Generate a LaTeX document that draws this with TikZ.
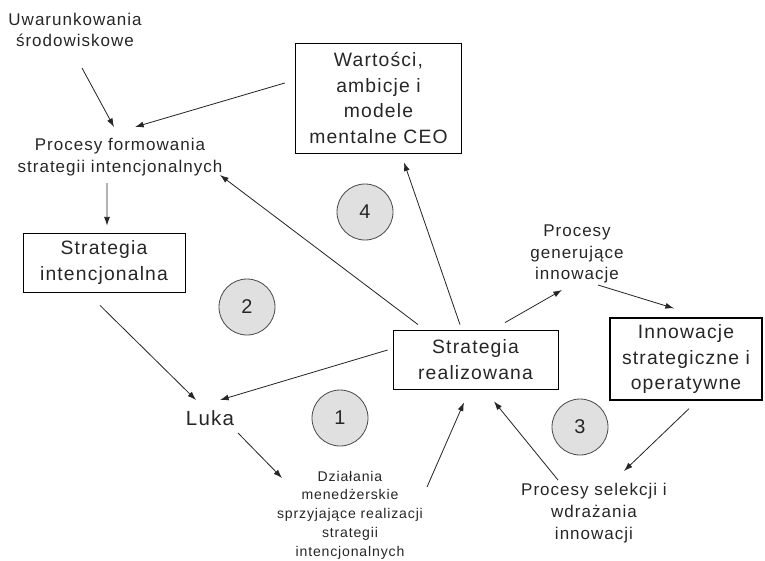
\documentclass[tikz,border=0pt]{standalone}
\usepackage{fontspec}
\setmainfont{Liberation Sans}[LetterSpace=6]
\usepackage{tikz}
\usetikzlibrary{arrows.meta,positioning}

\begin{document}
\begin{tikzpicture}[
  every node/.style={align=center, text=black!85},
  box/.style={rectangle, draw=black, line width=0.7pt, inner sep=0pt, font=\fontsize{16.5}{22}\selectfont},
  plain/.style={font=\fontsize{14.5}{18.5}\selectfont},
  marker/.style={circle, draw=black!70, line width=0.7pt, fill=black!12, minimum size=1.68cm, font=\fontsize{17}{18}\selectfont},
  arrow/.style={-{Latex[length=2.6mm, width=1.8mm]}, line width=0.7pt, draw=black!85}
]
\useasboundingbox (0,0) rectangle (22.95,-16.8);

% --- TEXT LABELS ---
\node[plain] (uwar) at (2.25,-0.9) {Uwarunkowania\\środowiskowe};
\node[plain] (procform) at (3.6,-4.71) {Procesy formowania\\strategii intencjonalnych};
\node[font=\fontsize{17.5}{20}\selectfont] (luka) at (6.3,-12.54) {Luka};
\node[font=\fontsize{12}{16}\selectfont] (actions) at (10.5,-15.45) {Działania\\menedżerskie\\sprzyjające realizacji\\strategii\\intencjonalnych};
\node[plain] (generate) at (17.31,-7.62) {Procesy\\generujące\\innowacje};
\node[plain] (select) at (17.82,-15.39) {Procesy selekcji i\\wdrażania\\innowacji};

% --- BOXES ---
\node[box, minimum width=5.0cm, minimum height=3.3cm] (values) at (11.355,-2.94) {Wartości,\\ambicje i\\modele\\mentalne CEO};
\node[box, minimum width=4.86cm, minimum height=1.77cm] (intended) at (3.12,-7.875) {Strategia\\intencjonalna};
\node[box, minimum width=4.95cm, minimum height=1.77cm] (realized) at (14.265,-10.785) {Strategia\\realizowana};
\node[box, line width=1.1pt, minimum width=4.56cm, minimum height=2.46cm] (innov) at (20.58,-10.77) {Innowacje\\strategiczne i\\operatywne};

% --- NUMBERED LOOPS ---
\node[marker] (loop1) at (10.2,-12.54) {1};
\node[marker] (loop2) at (7.41,-9.21) {2};
\node[marker] (loop3) at (17.4,-12.81) {3};
\node[marker] (loop4) at (10.95,-6.36) {4};

% --- INTENDED STRATEGY FLOW ---
\draw[arrow] ([xshift=0.21cm, yshift=-1.14cm]uwar.center) -- ([xshift=-0.18cm, yshift=0.9cm]procform.center);
\draw[arrow] ([xshift=-0.3cm, yshift=0.45cm]values.west) -- ([xshift=0.45cm, yshift=0.9cm]procform.center);
\draw[arrow] ([xshift=-0.39cm, yshift=-0.78cm]procform.center) -- ([xshift=0.09cm, yshift=0.21cm]intended.north);
\draw[arrow] ([xshift=-0.12cm, yshift=-0.39cm]intended.south) -- ([xshift=-0.42cm, yshift=0.54cm]luka.center);

% --- GAP AND MANAGERIAL ACTIONS ---
\draw[arrow] ([xshift=-0.15cm, yshift=0.285cm]realized.west) -- ([xshift=0.3cm, yshift=0.54cm]luka.center);
\draw[arrow] ([xshift=0.84cm, yshift=-0.45cm]luka.center) -- ([xshift=-2.04cm, yshift=1.11cm]actions.center);
\draw[arrow] ([xshift=2.31cm, yshift=0.84cm]actions.center) -- ([xshift=-0.345cm, yshift=-0.39cm]realized.south);

% --- FEEDBACK FROM REALIZED STRATEGY ---
\draw[arrow] ([xshift=-1.725cm, yshift=0.15cm]realized.north) -- ([xshift=3.0cm, yshift=-0.54cm]procform.center);
\draw[arrow] ([xshift=-0.465cm, yshift=0.15cm]realized.north) -- ([xshift=0.765cm, yshift=-0.27cm]values.south);

% --- INNOVATION LOOP ---
\draw[arrow] ([xshift=0.885cm, yshift=0.21cm]realized.north) -- ([xshift=-0.45cm, yshift=-1.08cm]generate.center);
\draw[arrow] ([xshift=0.63cm, yshift=-0.93cm]generate.center) -- ([xshift=-0.36cm, yshift=0.27cm]innov.north);
\draw[arrow] ([xshift=0.09cm, yshift=-0.24cm]innov.south) -- ([xshift=0.9cm, yshift=1.26cm]select.center);
\draw[arrow] ([xshift=-1.08cm, yshift=0.99cm]select.center) -- ([xshift=0.555cm, yshift=-0.36cm]realized.south);

\end{tikzpicture}
\end{document}
